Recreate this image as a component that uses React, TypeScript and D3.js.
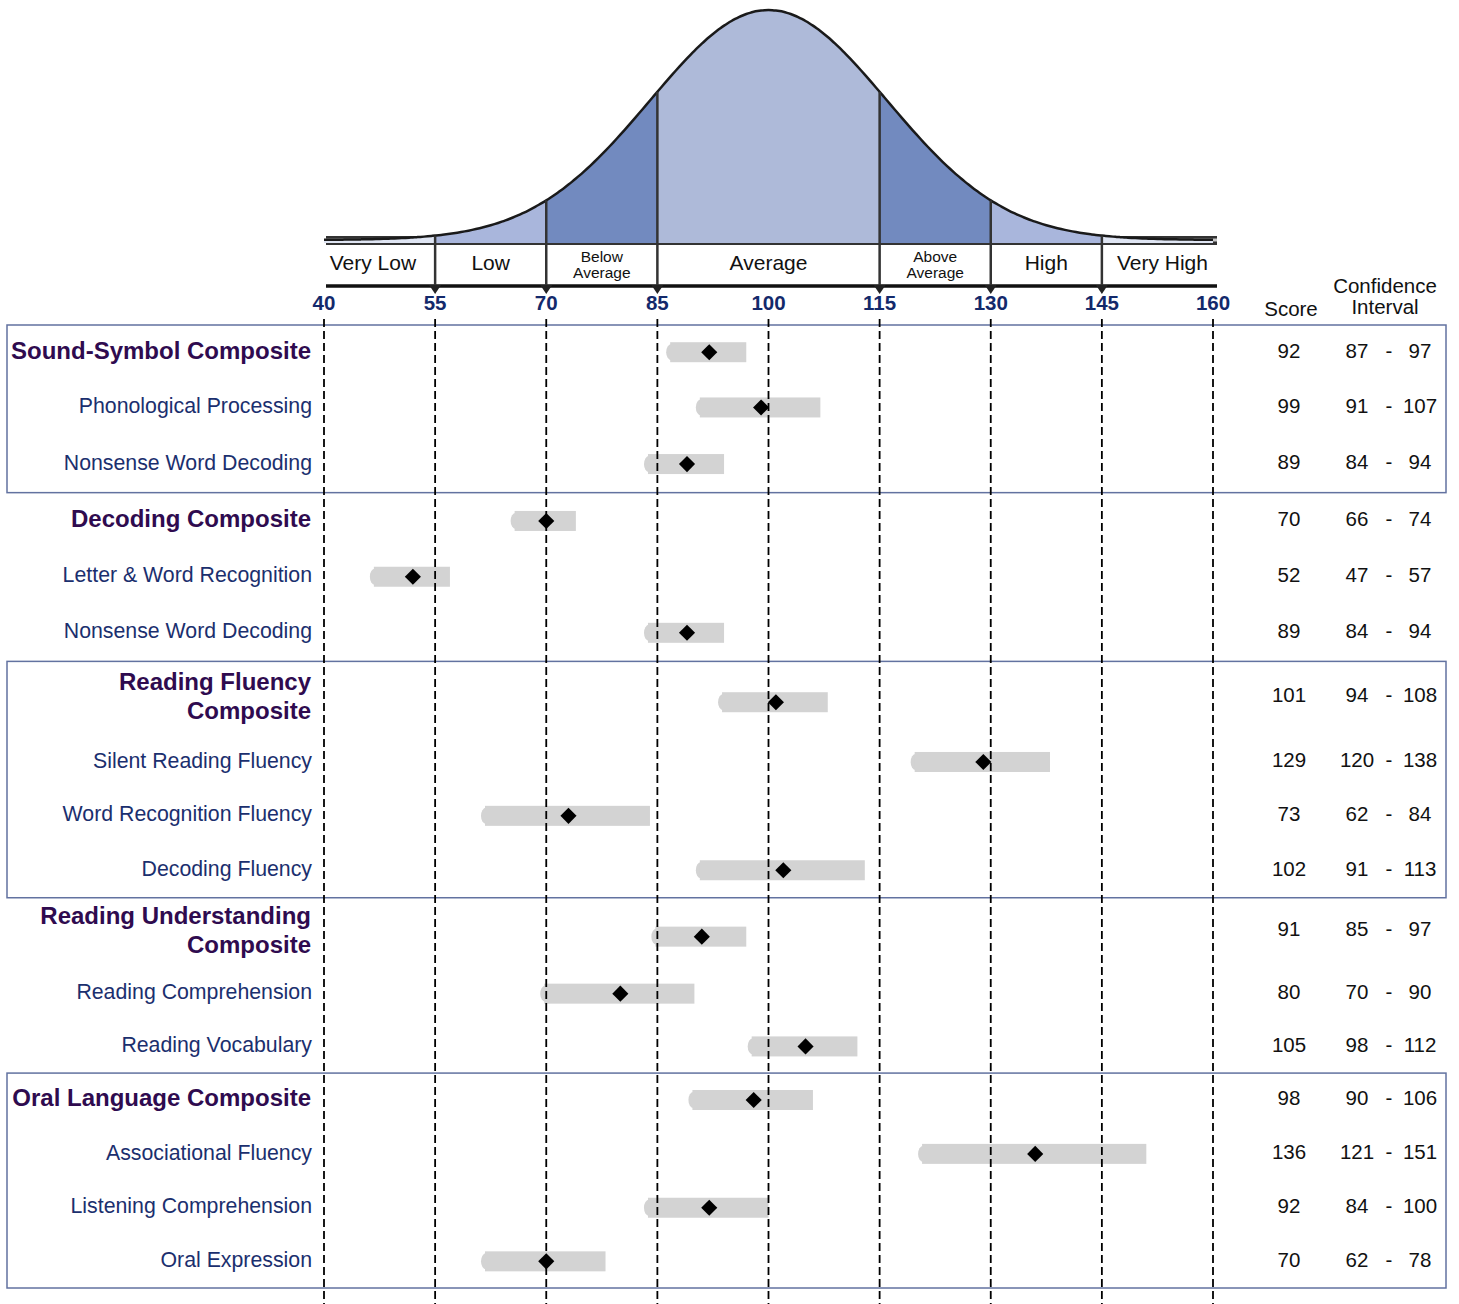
import React from "react";
import * as d3 from "d3";

// ---------- data ----------
const rowLabels = [
  "Sound-Symbol Composite",
  "Phonological Processing",
  "Nonsense Word Decoding",
  "Decoding Composite",
  "Letter & Word Recognition",
  "Nonsense Word Decoding",
  "Reading Fluency\nComposite",
  "Silent Reading Fluency",
  "Word Recognition Fluency",
  "Decoding Fluency",
  "Reading Understanding\nComposite",
  "Reading Comprehension",
  "Reading Vocabulary",
  "Oral Language Composite",
  "Associational Fluency",
  "Listening Comprehension",
  "Oral Expression",
];
const rowIsComposite = [true, false, false, true, false, false, true, false, false, false, true, false, false, true, false, false, false];
const scores = [92, 99, 89, 70, 52, 89, 101, 129, 73, 102, 91, 80, 105, 98, 136, 92, 70];
const ciLow = [87, 91, 84, 66, 47, 84, 94, 120, 62, 91, 85, 70, 98, 90, 121, 84, 62];
const ciHigh = [97, 107, 94, 74, 57, 94, 108, 138, 84, 113, 97, 90, 112, 106, 151, 100, 78];
const rowGroup = [0, 0, 0, 1, 1, 1, 2, 2, 2, 2, 3, 3, 3, 4, 4, 4, 4];
const boxedGroups = [0, 2, 4];

const axisTicks = [40, 55, 70, 85, 100, 115, 130, 145, 160];
const bandBreaks = [40, 55, 70, 85, 115, 130, 145, 160];
const bandLabels = ["Very Low", "Low", "Below\nAverage", "Average", "Above\nAverage", "High", "Very High"];
const bandFills = ["#dfe5f3", "#a9b6dc", "#728abf", "#aebad9", "#728abf", "#a9b6dc", "#dfe5f3"];

const CURVE_MEAN = 100;
const CURVE_SD = 16;

// ---------- layout (not data) ----------
const W = 1459;
const H = 1304;
const FONT = "'Liberation Sans', Arial, Helvetica, sans-serif";
// relative row heights (layout): one-line rows and two-line composite rows
const ROW_UNITS = [0.99, 1.02, 1.04, 1.03, 1.0, 1.04, 1.34, 0.98, 0.98, 1.0, 1.27, 0.95, 0.97, 0.98, 0.98, 0.98, 0.97];
const BAND_LABEL_SHIFT = [-0.4, 0, 0, 0, 0, 0, 0.3];

export default function App() {
  const x = d3.scaleLinear().domain([40, 160]).range([324, 1213]);
  const yCurve = d3.scaleLinear().domain([0, 1]).range([240, 10]);
  const dens = (s: number) => Math.exp(-0.5 * Math.pow((s - CURVE_MEAN) / CURVE_SD, 2));

  const curvePts = d3.range(40, 160.001, 0.5);
  const line = d3
    .line<number>()
    .x((s) => x(s))
    .y((s) => yCurve(dens(s)))
    .curve(d3.curveBasis);
  const area = d3
    .area<number>()
    .x((s) => x(s))
    .y0(243)
    .y1((s) => yCurve(dens(s)))
    .curve(d3.curveBasis);

  const units = ROW_UNITS;
  const total = d3.sum(units);
  const cum: number[] = [];
  units.reduce((acc, u) => {
    cum.push(acc);
    return acc + u;
  }, 0);
  const yRows = d3.scaleLinear().domain([0, total]).range([325, 1288]);
  const rowY = rowLabels.map((_, i) => yRows(cum[i] + units[i] / 2));
  const twoLine = rowLabels.map((l) => l.includes("\n"));
  const markY = rowY.map((y, i) => (twoLine[i] ? y + 4 : y));

  const groups = Array.from(new Set(rowGroup));
  const groupExtent = groups.map((g) => {
    const idx = rowGroup.map((gg, i) => (gg === g ? i : -1)).filter((i) => i >= 0);
    const first = idx[0];
    const last = idx[idx.length - 1];
    return { g, top: yRows(cum[first]), bottom: yRows(cum[last] + units[last]) };
  });

  const diamond = d3.symbol().type(d3.symbolSquare).size(130)();

  return (
    <svg
      width={W}
      height={H}
      style={{ position: "absolute", left: 0, top: 0, background: "#fff" }}
      fontFamily={FONT}
    >
      {/* baseline double line */}
      <line x1={326} x2={1217} y1={240} y2={240} stroke="#333" strokeWidth={8} />
      <line x1={326} x2={1217} y1={240} y2={240} stroke="#c8c8c8" strokeWidth={3} />

      {/* bell curve segments */}
      {bandFills.map((f, i) => {
        const a = bandBreaks[i];
        const b = bandBreaks[i + 1];
        const pts = curvePts.filter((s) => s >= a && s <= b);
        return <path key={"seg" + i} d={area(pts) || ""} fill={f} />;
      })}
      <path d={line(curvePts) || ""} fill="none" stroke="#1a1a1a" strokeWidth={2.5} />
      <line x1={326} x2={1217} y1={244} y2={244} stroke="#333" strokeWidth={2} />

      {/* band row */}
      <rect x={326} y={245} width={891} height={40} fill="#fff" />
      <line x1={326} x2={1217} y1={286} y2={286} stroke="#111" strokeWidth={3.5} />

      {/* dividers */}
      {bandBreaks.slice(1, -1).map((s) => (
        <g key={"div" + s}>
          <line x1={x(s)} x2={x(s)} y1={yCurve(dens(s))} y2={288} stroke="#333" strokeWidth={2.5} />
          <path d={`M${x(s) - 6},${285} L${x(s) + 6},${285} L${x(s)},${294} Z`} fill="#222" />
        </g>
      ))}

      {/* band labels */}
      {bandLabels.map((l, i) => {
        const a = bandBreaks[i];
        const b = bandBreaks[i + 1];
        const cx = x((a + b) / 2 + BAND_LABEL_SHIFT[i] * (b - a) * 0.5 * 0.3);
        const lines = l.split("\n");
        if (lines.length === 1)
          return (
            <text key={"bl" + i} x={cx} y={264} textAnchor="middle" dominantBaseline="middle" fontSize={21} fill="#111">
              {l}
            </text>
          );
        return (
          <text key={"bl" + i} x={cx} textAnchor="middle" fontSize={15.5} fill="#111">
            {lines.map((t, j) => (
              <tspan key={j} x={cx} y={262 + j * 16}>
                {t}
              </tspan>
            ))}
          </text>
        );
      })}

      {/* tick labels */}
      {axisTicks.map((t) => (
        <text
          key={"tk" + t}
          x={x(t)}
          y={305}
          textAnchor="middle"
          dominantBaseline="middle"
          fontSize={20.5}
          fontWeight="bold"
          fill="#13296b"
        >
          {t}
        </text>
      ))}

      {/* headers */}
      <text x={1291} y={311} textAnchor="middle" dominantBaseline="middle" fontSize={20.5} fill="#111">
        Score
      </text>
      <text x={1385} y={288} textAnchor="middle" dominantBaseline="middle" fontSize={20.5} fill="#111">
        Confidence
      </text>
      <text x={1385} y={309} textAnchor="middle" dominantBaseline="middle" fontSize={20.5} fill="#111">
        Interval
      </text>

      {/* group boxes */}
      {groupExtent
        .filter((ge) => boxedGroups.includes(ge.g))
        .map((ge) => (
          <rect
            key={"box" + ge.g}
            x={7}
            y={ge.top}
            width={1439}
            height={ge.bottom - ge.top}
            fill="none"
            stroke="#6272a0"
            strokeWidth={1.5}
          />
        ))}

      {/* bars */}
      {rowLabels.map((_, i) => (
        <g key={"bar" + i}>
          <ellipse cx={x(ciLow[i]) - 1} cy={markY[i]} rx={5} ry={8} fill="#d3d3d3" />
          <rect
            x={x(ciLow[i]) - 2}
            y={markY[i] - 10}
            width={x(ciHigh[i]) - x(ciLow[i]) + 2}
            height={20}
            fill="#d3d3d3"
          />
        </g>
      ))}

      {/* dashed verticals */}
      {axisTicks.map((t) => (
        <line
          key={"dl" + t}
          x1={x(t)}
          x2={x(t)}
          y1={319}
          y2={H}
          stroke="#000"
          strokeWidth={1.8}
          strokeDasharray="8,4"
        />
      ))}

      {/* diamonds */}
      {scores.map((s, i) => (
        <path
          key={"dm" + i}
          d={diamond || ""}
          transform={`translate(${x(s)},${markY[i]}) rotate(45)`}
          fill="#000"
        />
      ))}

      {/* row labels */}
      {rowLabels.map((l, i) => {
        const lines = l.split("\n");
        const comp = rowIsComposite[i];
        const lh = 29;
        const y0 = rowY[i] - ((lines.length - 1) * lh) / 2;
        return (
          <text
            key={"rl" + i}
            textAnchor="end"
            fontSize={comp ? 24 : 21.3}
            fontWeight={comp ? "bold" : "normal"}
            fill={comp ? "#2f0b4f" : "#1b2f6e"}
          >
            {lines.map((t, j) => (
              <tspan key={j} x={comp ? 311 : 312} y={y0 + j * lh} dominantBaseline="middle">
                {t}
              </tspan>
            ))}
          </text>
        );
      })}

      {/* values */}
      {scores.map((s, i) => {
        const vy = twoLine[i] ? rowY[i] - 2 : rowY[i];
        return (
          <g key={"vals" + i} fontSize={20.5} fill="#111">
            <text x={1289} y={vy} textAnchor="middle" dominantBaseline="middle">
              {s}
            </text>
            <text x={1357} y={vy} textAnchor="middle" dominantBaseline="middle">
              {ciLow[i]}
            </text>
            <text x={1389} y={vy} textAnchor="middle" dominantBaseline="middle">
              -
            </text>
            <text x={1420} y={vy} textAnchor="middle" dominantBaseline="middle">
              {ciHigh[i]}
            </text>
          </g>
        );
      })}
    </svg>
  );
}
